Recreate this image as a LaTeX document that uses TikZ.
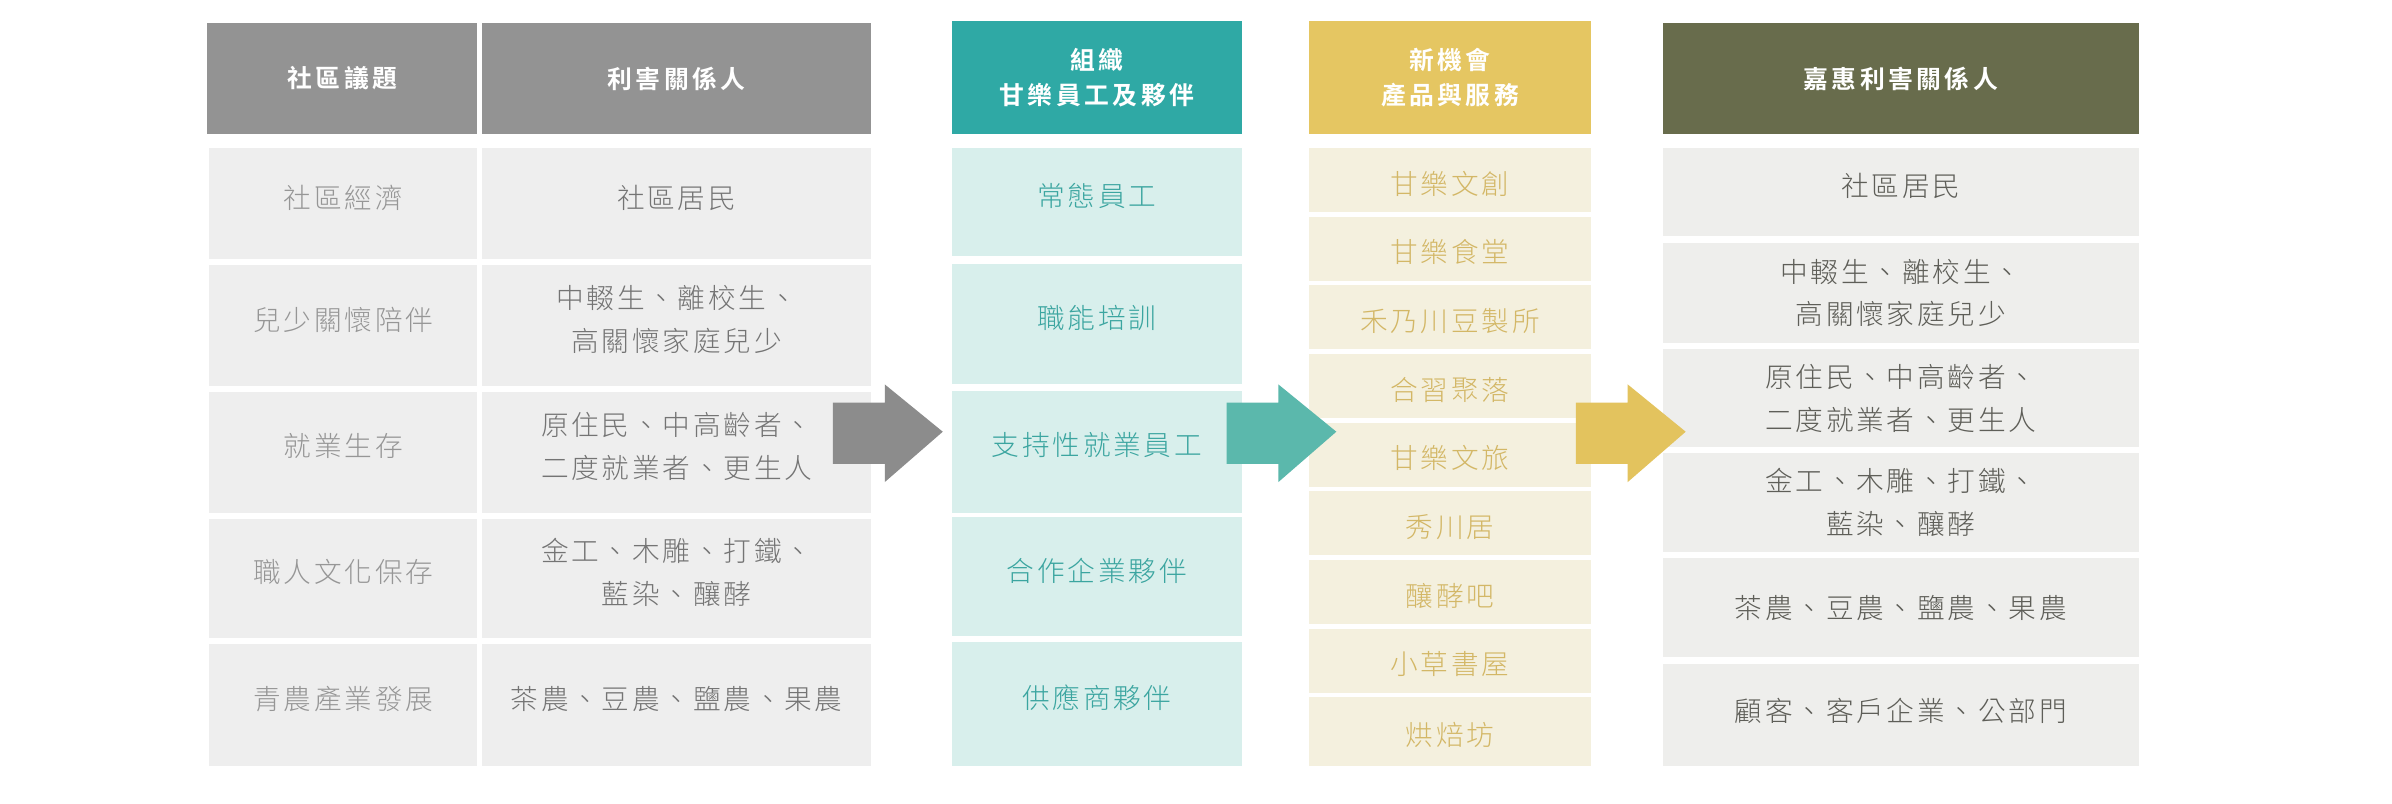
\documentclass[tikz,border=0pt]{standalone}
\usepackage{fontspec}
\newfontfamily\cjkl{Noto Sans CJK TC Light}[LetterSpace=10]
\newfontfamily\cjkb{Noto Sans CJK TC Bold}[LetterSpace=14]
\definecolor{hdrgray}{HTML}{939393}
\definecolor{cellgray}{HTML}{EEEEEE}
\definecolor{txtA}{HTML}{969696}
\definecolor{txtB}{HTML}{747474}
\definecolor{hdrteal}{HTML}{2FA9A5}
\definecolor{cellteal}{HTML}{D8EFEC}
\definecolor{txtteal}{HTML}{3BA5A0}
\definecolor{arrteal}{HTML}{5BB8AC}
\definecolor{hdrgold}{HTML}{E5C662}
\definecolor{cellgold}{HTML}{F4F0DE}
\definecolor{txtgold}{HTML}{D3B766}
\definecolor{arrgold}{HTML}{E3C35E}
\definecolor{hdrolive}{HTML}{686C4C}
\definecolor{cellolive}{HTML}{EEEEEC}
\definecolor{txtolive}{HTML}{5E5E58}
\definecolor{arrgray}{HTML}{8C8C8C}
\newcommand\mycell[7]{%
  \pgfmathsetmacro\mycw{(#5-#3)*0.75}%
  \pgfmathsetmacro\mych{(#6-#4)*0.75}%
  \node[#2, minimum width=\mycw pt, minimum height=\mych pt] (#1) at ({(#3+#5)/2},{(#4+#6)/2}) {#7};%
}
\tikzset{
  box/.style={inner sep=0pt, outer sep=0pt, align=center, draw=none},
  hdr/.style={box, text=white, font=\cjkb\fontsize{12.2}{17.25}\selectfont},
  cell/.style={box, font=\cjkl\fontsize{13.6}{21}\selectfont},
  up/.style={text depth=7pt},
  hgray/.style={hdr, fill=hdrgray},
  hteal/.style={hdr, fill=hdrteal},
  hgold/.style={hdr, fill=hdrgold},
  holive/.style={hdr, fill=hdrolive},
  ca/.style={cell, up, fill=cellgray, text=txtA},
  cb/.style={cell, up, fill=cellgray, text=txtB},
  cteal/.style={cell, up, fill=cellteal, text=txtteal},
  cgold/.style={cell, fill=cellgold, text=txtgold, text height=15pt},
  colive/.style={cell, fill=cellolive, text=txtolive},
}
\begin{document}
\begin{tikzpicture}[x=0.75pt,y=-0.75pt]
\useasboundingbox (0,0) rectangle (1568,527);
\fill[white] (0,0) rectangle (1568,527);
% headers
\mycell{hA}{hgray}{136}{15}{313}{88}{社區議題}
\mycell{hB}{hgray}{316}{15}{571}{88}{利害關係人}
\mycell{hC}{hteal}{624}{14}{814}{88}{組織\\甘樂員工及夥伴}
\mycell{hD}{hgold}{858}{14}{1043}{88}{新機會\\產品與服務}
\mycell{hE}{holive}{1090}{15}{1402}{88}{嘉惠利害關係人}
% column A
\mycell{a1}{ca}{137}{97}{313}{170}{社區經濟}
\mycell{a2}{ca}{137}{174}{313}{253}{兒少關懷陪伴}
\mycell{a3}{ca}{137}{257}{313}{336}{就業生存}
\mycell{a4}{ca}{137}{340}{313}{418}{職人文化保存}
\mycell{a5}{ca}{137}{422}{313}{502}{青農產業發展}
% column B
\mycell{b1}{cb}{316}{97}{571}{170}{社區居民}
\mycell{b2}{cb}{316}{174}{571}{253}{中輟生、離校生、\\高關懷家庭兒少}
\mycell{b3}{cb}{316}{257}{571}{336}{原住民、中高齡者、\\二度就業者、更生人}
\mycell{b4}{cb}{316}{340}{571}{418}{金工、木雕、打鐵、\\藍染、釀酵}
\mycell{b5}{cb}{316}{422}{571}{502}{茶農、豆農、鹽農、果農}
% column C
\mycell{c1}{cteal}{624}{97}{814}{168}{常態員工}
\mycell{c2}{cteal}{624}{173}{814}{252}{職能培訓}
\mycell{c3}{cteal}{624}{256}{814}{336}{支持性就業員工}
\mycell{c4}{cteal}{624}{339}{814}{417}{合作企業夥伴}
\mycell{c5}{cteal}{624}{421}{814}{502}{供應商夥伴}
% column D
\mycell{d1}{cgold}{858}{97}{1043}{139}{甘樂文創}
\mycell{d2}{cgold}{858}{142}{1043}{184}{甘樂食堂}
\mycell{d3}{cgold}{858}{187}{1043}{229}{禾乃川豆製所}
\mycell{d4}{cgold}{858}{232}{1043}{274}{合習聚落}
\mycell{d5}{cgold}{858}{277}{1043}{319}{甘樂文旅}
\mycell{d6}{cgold}{858}{322}{1043}{364}{秀川居}
\mycell{d7}{cgold}{858}{367}{1043}{409}{釀酵吧}
\mycell{d8}{cgold}{858}{412}{1043}{454}{小草書屋}
\mycell{d9}{cgold}{858}{457}{1043}{502}{烘焙坊}
% column E
\mycell{e1}{colive, up}{1090}{97}{1402}{155}{社區居民}
\mycell{e2}{colive}{1090}{159}{1402}{225}{中輟生、離校生、\\高關懷家庭兒少}
\mycell{e3}{colive}{1090}{229}{1402}{293}{原住民、中高齡者、\\二度就業者、更生人}
\mycell{e4}{colive}{1090}{297}{1402}{362}{金工、木雕、打鐵、\\藍染、釀酵}
\mycell{e5}{colive}{1090}{366}{1402}{431}{茶農、豆農、鹽農、果農}
\mycell{e6}{colive, text depth=5pt}{1090}{435}{1402}{502}{顧客、客戶企業、公部門}
% block arrows
\fill[arrgray] (546,264) -- (580,264) -- (580,252) -- (618,283) -- (580,316) -- (580,304) -- (546,304) -- cycle;
\fill[arrteal] (804,264) -- (838,264) -- (838,252) -- (876,283) -- (838,316) -- (838,304) -- (804,304) -- cycle;
\fill[arrgold] (1033,264) -- (1067,264) -- (1067,252) -- (1105,283) -- (1067,316) -- (1067,304) -- (1033,304) -- cycle;
\end{tikzpicture}
\end{document}
